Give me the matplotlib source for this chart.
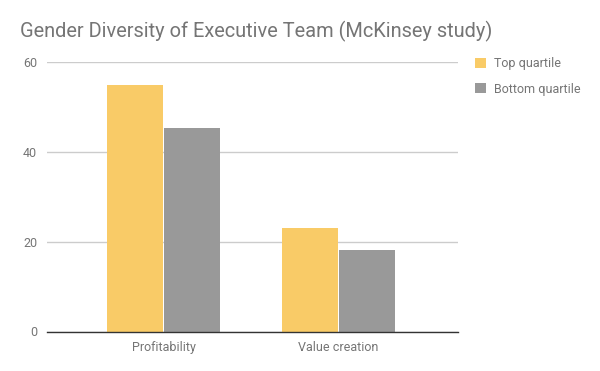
import matplotlib
matplotlib.use("Agg")
import matplotlib.pyplot as plt
import numpy as np

categories = ["Profitability", "Value creation"]
series_names = ["Top quartile", "Bottom quartile"]
top_quartile = [55, 23]
bottom_quartile = [45.3, 18.1]
yticks = [0, 20, 40, 60]

colors = ["#F9CB67", "#999999"]
text_color = "#757575"

plt.rcParams['font.family'] = ['Roboto', 'DejaVu Sans']

fig = plt.figure(figsize=(6, 3.71), dpi=100)
ax = fig.add_axes([47/600, 1-331.5/371, 411/600, (331.5-62.3)/371])

x = np.arange(len(categories))
w = 0.32
gap = 0.005
b1 = ax.bar(x - w/2 - gap, top_quartile, w, color=colors[0], label=series_names[0], zorder=3)
b2 = ax.bar(x + w/2 + gap, bottom_quartile, w, color=colors[1], label=series_names[1], zorder=3)

ax.set_xlim(-0.666, 1.683)
ax.set_ylim(0, 60)
ax.set_yticks(yticks)
ax.set_yticklabels([str(v) for v in yticks])
ax.set_xticks(x)
ax.set_xticklabels(categories)
ax.grid(axis='y', color="#cccccc", linewidth=1, zorder=0)
for s in ["top", "right", "left"]:
    ax.spines[s].set_visible(False)
ax.spines["bottom"].set_color("#333333")
ax.spines["bottom"].set_linewidth(1)
ax.spines["bottom"].set_zorder(4)
ax.tick_params(axis='both', length=0, colors=text_color, labelsize=9)
ax.tick_params(axis='y', pad=7)
ax.tick_params(axis='x', pad=7)

fig.text(20/600, 1-31/371, "Gender Diversity of Executive Team (McKinsey study)",
         fontsize=14.4, color=text_color, va='center', ha='left')

leg = ax.legend(loc='upper left', bbox_to_anchor=(475/600, 1-57/371), bbox_transform=fig.transFigure,
                frameon=False, handlelength=0.9, handleheight=0.9, handletextpad=0.6,
                labelspacing=1.0, fontsize=9, labelcolor=text_color, borderpad=0, borderaxespad=0)

fig.savefig("out.png", dpi=100)
